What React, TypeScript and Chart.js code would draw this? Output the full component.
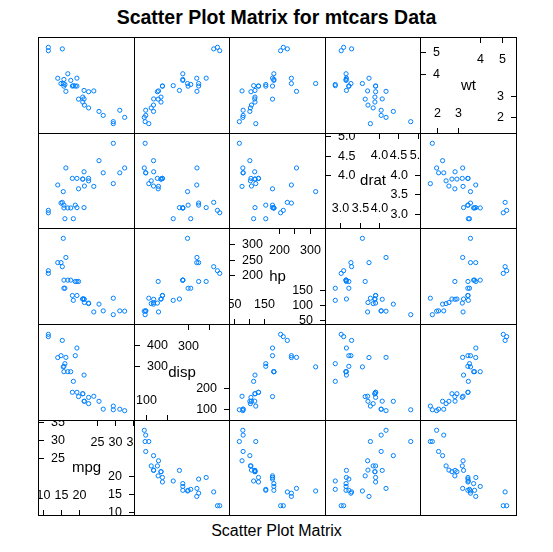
import React, { useEffect, useRef } from "react";
import { Chart, registerables } from "chart.js";

Chart.register(...registerables);

// mtcars data (32 cars)
const mpg = [21.0, 21.0, 22.8, 21.4, 18.7, 18.1, 14.3, 24.4, 22.8, 19.2, 17.8, 16.4, 17.3, 15.2, 10.4, 10.4, 14.7, 32.4, 30.4, 33.9, 21.5, 15.5, 15.2, 13.3, 19.2, 27.3, 26.0, 30.4, 15.8, 19.7, 15.0, 21.4];
const disp = [160, 160, 108, 258, 360, 225, 360, 146.7, 140.8, 167.6, 167.6, 275.8, 275.8, 275.8, 472, 460, 440, 78.7, 75.7, 71.1, 120.1, 318, 304, 350, 400, 79, 120.3, 95.1, 351, 145, 301, 121];
const hp = [110, 110, 93, 110, 175, 105, 245, 62, 95, 123, 123, 180, 180, 180, 205, 215, 230, 66, 52, 65, 97, 150, 150, 245, 175, 66, 91, 113, 264, 175, 335, 109];
const drat = [3.90, 3.90, 3.85, 3.08, 3.15, 2.76, 3.21, 3.69, 3.92, 3.92, 3.92, 3.07, 3.07, 3.07, 2.93, 3.00, 3.23, 4.08, 4.93, 4.22, 3.70, 2.76, 3.15, 3.73, 3.08, 4.08, 4.43, 3.77, 4.22, 3.62, 3.54, 4.11];
const wt = [2.620, 2.875, 2.320, 3.215, 3.440, 3.460, 3.570, 3.190, 3.150, 3.440, 3.440, 4.070, 3.730, 3.780, 5.250, 5.424, 5.345, 2.200, 1.615, 1.835, 2.465, 3.520, 3.435, 3.840, 3.845, 1.935, 2.140, 1.513, 3.170, 2.770, 3.570, 2.780];

const varNames = ["mpg", "disp", "hp", "drat", "wt"];
const varData = [mpg, disp, hp, drat, wt];

// diagonal-panel ticks: high values (left/top), low values (right/bottom)
const highTicks = [[25, 30, 35], [300, 400], [200, 250, 300], [4.0, 4.5, 5.0], [4, 5]];
const lowTicks = [[10, 15, 20], [100, 200], [50, 100, 150], [3.0, 3.5, 4.0], [2, 3]];
const leftLabels = [["25", "30", "35"], ["300", "400"], ["200", "250", "300"], ["4.0", "4.5", "5.0"], ["4", "5"]];
const topLabels = [["25", "30", "35"], ["300", ""], ["200", "", "300"], ["4.0", "4.5", "5.0"], ["4", "5"]];
const rightLabels = [["10", "15", "20"], ["100", "200"], ["50", "100", "150"], ["3.0", "3.5", "4.0"], ["2", "3"]];
const bottomLabels = [["10", "15", "20"], ["100", ""], ["50", "", "150"], ["3.0", "3.5", "4.0"], ["2", "3"]];

const titleText = "Scatter Plot Matrix for mtcars Data";
const xLabelText = "Scatter Plot Matrix";

const FONT = '"Liberation Sans", Arial, Helvetica, sans-serif';
const EDGES_X = [38, 134, 229, 325, 420, 516];
const EDGES_Y = [37, 133, 228, 324, 420, 515];

function limits(v: number[]): [number, number] {
  const lo = Math.min(...v);
  const hi = Math.max(...v);
  const pad = (hi - lo) * 0.07;
  return [lo - pad, hi + pad];
}

const borderPlugin = {
  id: "panelBorder",
  afterDraw(chart: any) {
    const ctx = chart.ctx;
    const w = chart.width;
    const h = chart.height;
    ctx.save();
    ctx.strokeStyle = "#000";
    ctx.lineWidth = 1;
    ctx.strokeRect(0.5, 0.5, w - 1, h - 1);
    ctx.restore();
  },
};

function makeDiagPlugin(k: number) {
  return {
    id: "diagPanel",
    afterDraw(chart: any) {
      const ctx = chart.ctx;
      const w = chart.width;
      const h = chart.height;
      const xs = chart.scales.x;
      const ys = chart.scales.y;
      const tl = 6;
      ctx.save();
      ctx.strokeStyle = "#000";
      ctx.fillStyle = "#000";
      ctx.lineWidth = 1;
      ctx.font = "12.5px " + FONT;
      ctx.textBaseline = "middle";
      // left (high)
      highTicks[k].forEach((v, i) => {
        const y = Math.round(ys.getPixelForValue(v)) + 0.5;
        ctx.beginPath();
        ctx.moveTo(0, y);
        ctx.lineTo(tl, y);
        ctx.stroke();
        ctx.textAlign = "left";
        ctx.fillText(leftLabels[k][i], 13, y);
      });
      // top (high)
      highTicks[k].forEach((v, i) => {
        const x = Math.round(xs.getPixelForValue(v)) + 0.5;
        ctx.beginPath();
        ctx.moveTo(x, 0);
        ctx.lineTo(x, tl);
        ctx.stroke();
        ctx.textAlign = "center";
        if (topLabels[k][i]) ctx.fillText(topLabels[k][i], x, 23);
      });
      // right (low)
      lowTicks[k].forEach((v, i) => {
        const y = Math.round(ys.getPixelForValue(v)) + 0.5;
        ctx.beginPath();
        ctx.moveTo(w - tl, y);
        ctx.lineTo(w, y);
        ctx.stroke();
        ctx.textAlign = "right";
        ctx.fillText(rightLabels[k][i], w - 13, y);
      });
      // bottom (low)
      lowTicks[k].forEach((v, i) => {
        const x = Math.round(xs.getPixelForValue(v)) + 0.5;
        ctx.beginPath();
        ctx.moveTo(x, h - tl);
        ctx.lineTo(x, h);
        ctx.stroke();
        ctx.textAlign = "center";
        if (bottomLabels[k][i]) ctx.fillText(bottomLabels[k][i], x, h - 20);
      });
      // variable name
      ctx.font = "15px " + FONT;
      ctx.textAlign = "center";
      ctx.fillText(varNames[k], w / 2, h / 2);
      ctx.restore();
    },
  };
}

function Panel({ row, col }: { row: number; col: number }) {
  const ref = useRef<HTMLCanvasElement>(null);
  const xi = col;
  const yi = 4 - row;
  const left = EDGES_X[col];
  const top = EDGES_Y[row];
  const w = EDGES_X[col + 1] - EDGES_X[col] + 1;
  const h = EDGES_Y[row + 1] - EDGES_Y[row] + 1;

  useEffect(() => {
    if (!ref.current) return;
    const [xmin, xmax] = limits(varData[xi]);
    const [ymin, ymax] = limits(varData[yi]);
    const diag = xi === yi;
    const points = diag
      ? []
      : varData[xi].map((v, i) => ({ x: v, y: varData[yi][i] }));
    const plugins: any[] = [borderPlugin];
    if (diag) plugins.push(makeDiagPlugin(xi));
    const chart = new Chart(ref.current, {
      type: "scatter",
      data: {
        datasets: [
          {
            data: points,
            pointStyle: "circle",
            pointRadius: 2.1,
            pointBorderWidth: 1,
            borderColor: "#0080ff",
            backgroundColor: "rgba(0,0,0,0)",
            pointBackgroundColor: "rgba(0,0,0,0)",
            pointBorderColor: "#0080ff",
          },
        ],
      },
      options: {
        animation: false,
        responsive: false,
        maintainAspectRatio: false,
        events: [],
        layout: { padding: 0 },
        plugins: {
          legend: { display: false },
          tooltip: { enabled: false },
          title: { display: false },
        },
        scales: {
          x: { type: "linear", min: xmin, max: xmax, display: false },
          y: { type: "linear", min: ymin, max: ymax, display: false },
        },
      },
      plugins,
    } as any);
    return () => chart.destroy();
  }, [xi, yi]);

  return (
    <canvas
      ref={ref}
      width={w}
      height={h}
      style={{ position: "absolute", left, top, width: w, height: h }}
    />
  );
}

export default function App() {
  const cells: React.ReactNode[] = [];
  for (let r = 0; r < 5; r++) {
    for (let c = 0; c < 5; c++) {
      cells.push(<Panel key={`${r}-${c}`} row={r} col={c} />);
    }
  }
  return (
    <div
      style={{
        position: "fixed",
        left: 0,
        top: 0,
        width: 553,
        height: 552,
        background: "#fff",
        fontFamily: FONT,
      }}
    >
      <div
        style={{
          position: "absolute",
          left: 0,
          top: 7.5,
          width: 553,
          textAlign: "center",
          fontSize: 19.5,
          lineHeight: "19.5px",
          fontWeight: "bold",
          color: "#000",
          whiteSpace: "nowrap",
        }}
      >
        {titleText}
      </div>
      {cells}
      <div
        style={{
          position: "absolute",
          left: 0,
          top: 523,
          width: 553,
          textAlign: "center",
          fontSize: 16,
          lineHeight: "16px",
          color: "#000",
          whiteSpace: "nowrap",
        }}
      >
        {xLabelText}
      </div>
    </div>
  );
}
